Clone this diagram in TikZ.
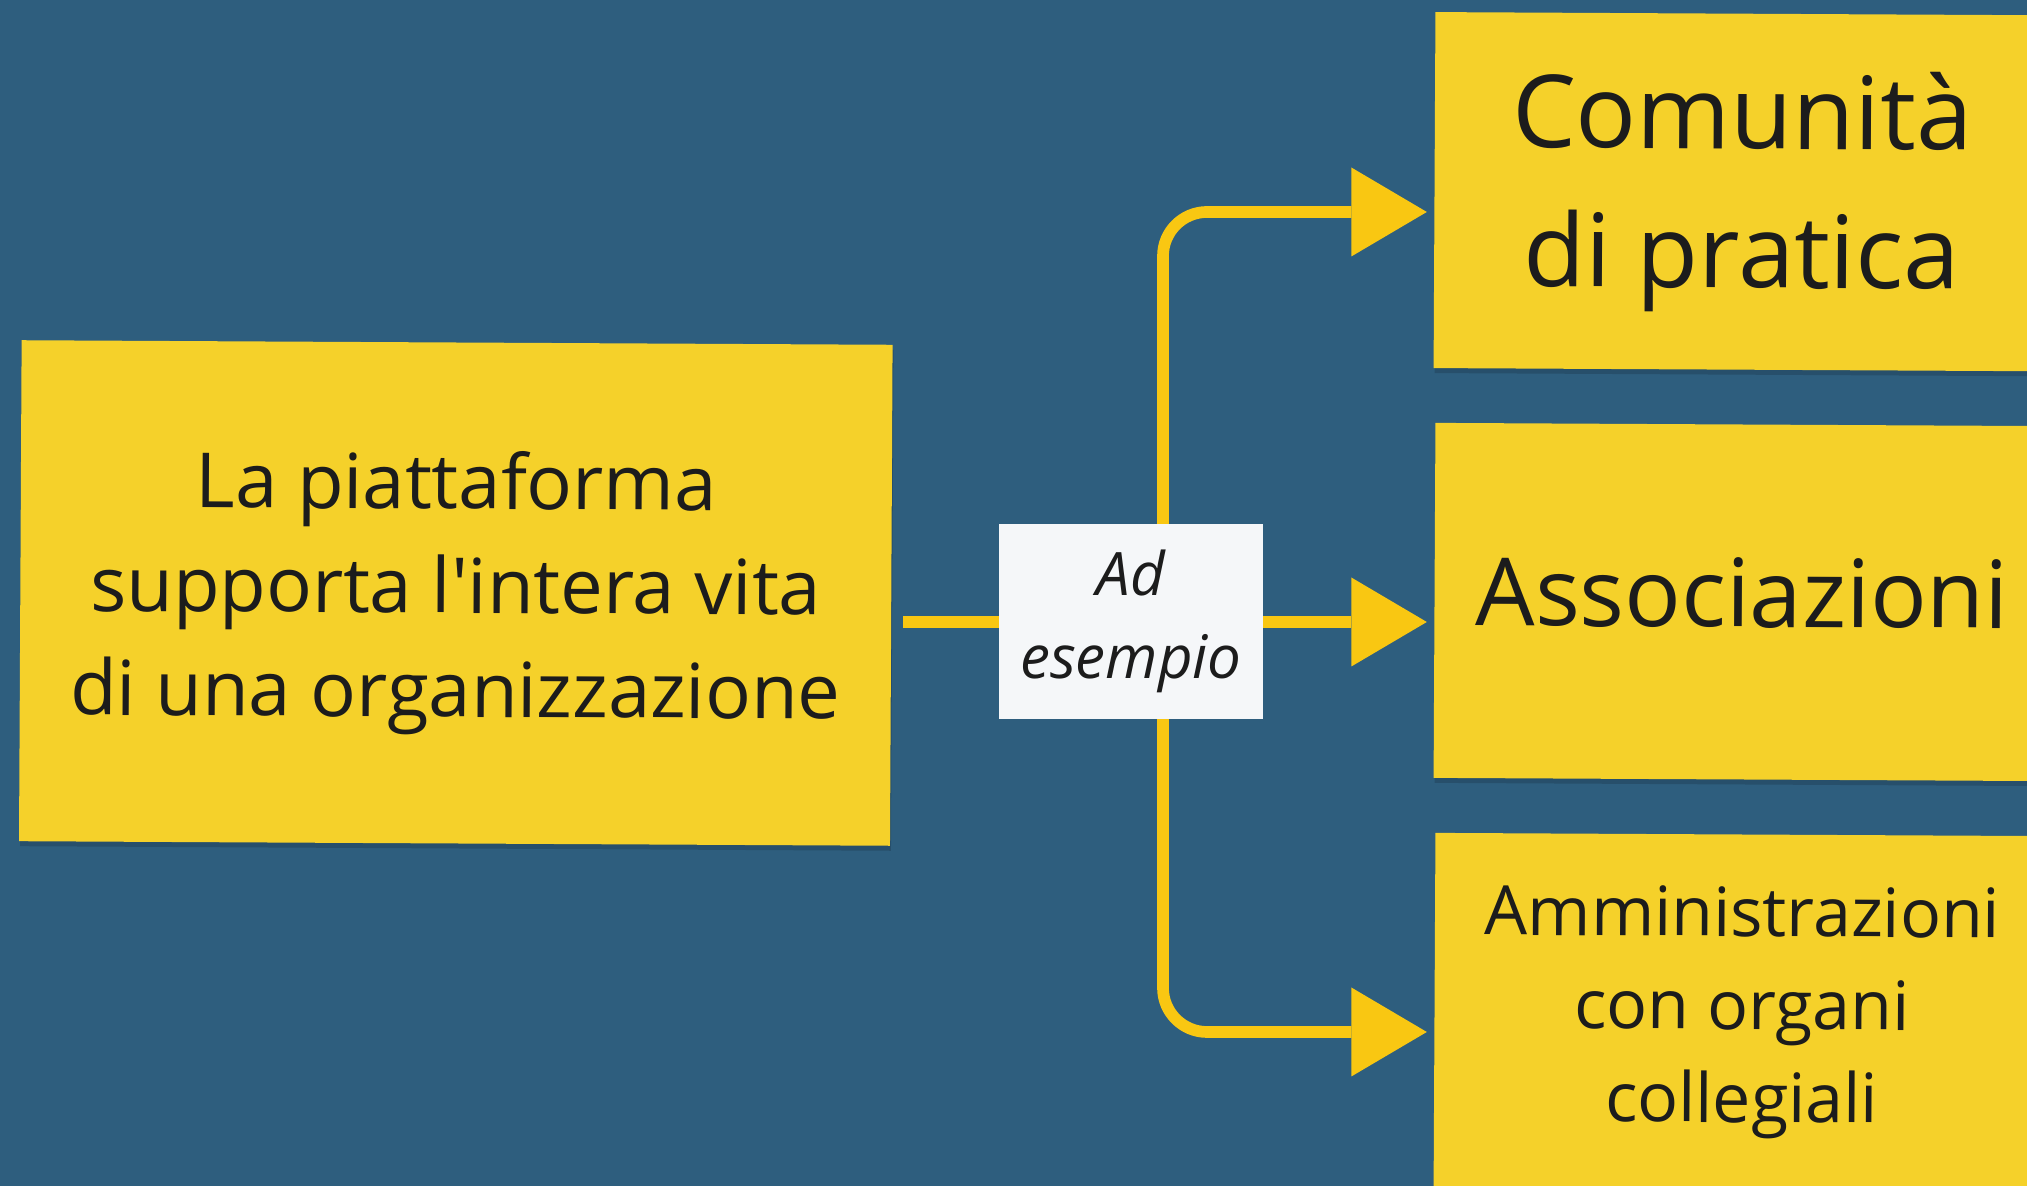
\documentclass[tikz,border=0pt]{standalone}
\usepackage{fontspec}
\newfontfamily\osf{Open Sans}
\usetikzlibrary{arrows.meta,shadows}
\definecolor{bg}{HTML}{2E5E7E}
\definecolor{boxy}{HTML}{F5D12A}
\definecolor{arry}{HTML}{F9C712}
\definecolor{lblw}{HTML}{F5F7F9}
\definecolor{txt}{HTML}{1C1C1C}
\begin{document}
\begin{tikzpicture}[x=1pt,y=1pt,
  ybox/.style={fill=boxy, text=txt, inner sep=0pt, align=center, rotate=-0.3,
    drop shadow={shadow xshift=1pt,shadow yshift=-5pt,opacity=0.15,fill=black}},
  lblbox/.style={fill=lblw, text=txt, inner sep=0pt, align=center,
    minimum width=264pt, minimum height=195pt,
    font=\osf\itshape\fontsize{60}{83}\selectfont},
  trunk/.style={draw=arry, line width=11.7pt},
  conn/.style={draw=arry, line width=11.7pt, rounded corners=44pt, shorten >=7.5pt,
    -{Triangle[length=75.5pt,width=89pt,line width=0pt]}}
]
\useasboundingbox (0,0) rectangle (2027,1186);
\fill[bg] (0,0) rectangle (2027,1186);
\clip (0,0) rectangle (2027,1186);

\node[ybox, minimum width=871pt, minimum height=501pt,
  font=\osf\fontsize{76}{104}\selectfont] (lbox) at (455.8,593)
  {La piattaforma\\supporta l'intera vita\\di una organizzazione};

\node[ybox, minimum width=615pt, minimum height=356pt,
  font=\osf\fontsize{101}{139}\selectfont] (c1) at (1742,994.3)
  {Comunità\\di pratica};

\node[ybox, minimum width=615pt, minimum height=355pt, text height=68pt, text depth=18pt,
  font=\osf\fontsize{94}{128}\selectfont] (c2) at (1742,584)
  {Associazioni};

\node[ybox, minimum width=615pt, minimum height=356pt,
  font=\osf\fontsize{68}{93}\selectfont] (c3) at (1742,173.5)
  {Amministrazioni\\con organi\\collegiali};

\coordinate (j) at (1163,564);

\draw[trunk, shorten <=11.7pt] (lbox.east |- j) -- (j);
\draw[conn] (j) |- ([yshift=-21.9pt]c1.west);
\draw[conn] (j) -- (c2.west |- j);
\draw[conn] (j) |- ([yshift=-21.1pt]c3.west);

\node[lblbox] (ex) at (1131,564.5) {Ad\\esempio};
\end{tikzpicture}
\end{document}
